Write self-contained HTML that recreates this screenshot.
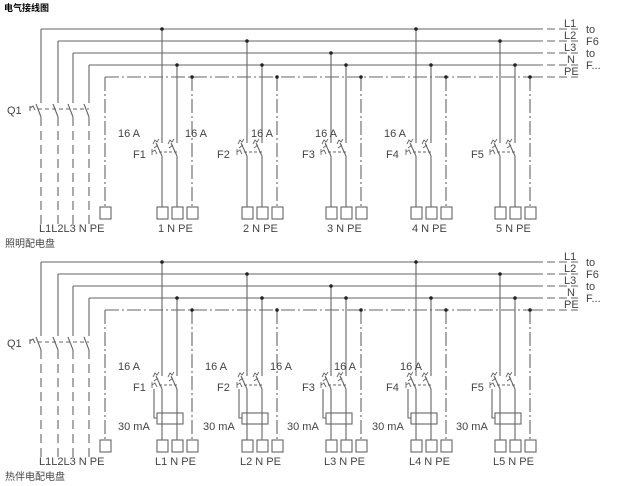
<!DOCTYPE html>
<html><head><meta charset="utf-8"><style>
html,body{margin:0;padding:0;background:#fff;}
svg{display:block;}
text{font-family:"Liberation Sans","Noto Sans CJK SC",sans-serif;font-size:11px;fill:#444;}
</style></head><body>
<svg width="632" height="486" viewBox="0 0 632 486" xmlns="http://www.w3.org/2000/svg">
<defs>
<g id="base" stroke="#666" stroke-width="1.1" fill="none">
 <!-- buses -->
 <path d="M41 29H535M58 41H535M73 53H535M89 65H535"/>
 <path d="M105 77H535" stroke-dasharray="14,3,2,3"/>
 <path d="M535 29H578M535 41H578M535 53H578M535 65H578M535 77H578" stroke-dasharray="8,4"/>
 <!-- Q1 verticals -->
 <path d="M41 29V103M58 41V103M73 53V103M89 65V103"/>
 <path d="M36 104L41 117M53 104L58 117M68 104L73 117M84 104L89 117"/>
 <path d="M41 117V226M58 117V226M73 117V226M89 117V226" stroke-dasharray="9,5"/>
 <path d="M38 109H89" stroke-dasharray="4,3"/>
 <path d="M30 106v5M30 108l3-2l2 4"/>
 <!-- PE left -->
 <path d="M105 77V207" stroke-dasharray="14,3,2,3"/>
 <rect x="100" y="207" width="11" height="12"/>
</g>
<g id="brk" stroke="#666" stroke-width="1.1" fill="none">
 <path d="M-6 143L0 156M9 143L15 156"/>
 <path d="M-3 152H15" stroke-dasharray="3,2"/>
 <path d="M-9 144l2-4l2 2l2-3M6 144l2-4l2 2l2-3M-8 148l4-3M7 148l4-3" stroke-width="0.9"/>
 <path d="M-10 149v6M-10 152l3-2l2 4" stroke-width="0.9"/>
 <path d="M15 65V143M0 156V207M15 156V207"/>
 <path d="M30 77V207" stroke-dasharray="14,3,2,3"/>
 <rect x="-5" y="207" width="11" height="12"/><rect x="10" y="207" width="11" height="12"/><rect x="25" y="207" width="11" height="12"/>
 <circle cx="15" cy="65" r="1.8" fill="#222" stroke="none"/><circle cx="30" cy="77" r="1.8" fill="#222" stroke="none"/>
</g>
<g id="rcd" stroke="#666" stroke-width="1.1" fill="none">
 <rect x="-5" y="180" width="26" height="11" fill="#fff"/>
 <path d="M0 180V191M15 180V191"/>
 <path d="M-8 156V185H-5"/>
</g>
</defs>

<use href="#base"/>
<use href="#base" transform="translate(0,233)"/>

<g stroke="#666" stroke-width="1.1" fill="none">
 <!-- top L taps -->
 <path d="M162 29V143M247 41V143M331 53V143M416 29V143M500 41V143"/>
 <!-- bottom L taps -->
 <path d="M162 262V376M247 274V376M331 286V376M416 262V376M500 274V376"/>
</g>
<g fill="#222">
 <circle cx="162" cy="29" r="1.8"/><circle cx="247" cy="41" r="1.8"/><circle cx="331" cy="53" r="1.8"/><circle cx="416" cy="29" r="1.8"/><circle cx="500" cy="41" r="1.8"/>
 <circle cx="162" cy="262" r="1.8"/><circle cx="247" cy="274" r="1.8"/><circle cx="331" cy="286" r="1.8"/><circle cx="416" cy="262" r="1.8"/><circle cx="500" cy="274" r="1.8"/>
</g>
<use href="#brk" transform="translate(162,0)"/>
<use href="#brk" transform="translate(247,0)"/>
<use href="#brk" transform="translate(331,0)"/>
<use href="#brk" transform="translate(416,0)"/>
<use href="#brk" transform="translate(500,0)"/>
<use href="#brk" transform="translate(162,233)"/>
<use href="#brk" transform="translate(247,233)"/>
<use href="#brk" transform="translate(331,233)"/>
<use href="#brk" transform="translate(416,233)"/>
<use href="#brk" transform="translate(500,233)"/>
<use href="#rcd" transform="translate(162,233)"/>
<use href="#rcd" transform="translate(247,233)"/>
<use href="#rcd" transform="translate(331,233)"/>
<use href="#rcd" transform="translate(416,233)"/>
<use href="#rcd" transform="translate(500,233)"/>

<text x="4" y="11" style="font-size:9px;font-weight:bold;fill:#000">电气接线图</text>

<!-- right labels top -->
<g style="font-size:10.5px">
<text x="564" y="27">L1</text><text x="564" y="39">L2</text><text x="564" y="51">L3</text><text x="567" y="63">N</text><text x="564" y="75">PE</text>
<text x="586" y="33">to</text><text x="586" y="45">F6</text><text x="586" y="57">to</text><text x="586" y="69">F...</text>
<text x="564" y="260">L1</text><text x="564" y="272">L2</text><text x="564" y="284">L3</text><text x="567" y="296">N</text><text x="564" y="308">PE</text>
<text x="586" y="266">to</text><text x="586" y="278">F6</text><text x="586" y="290">to</text><text x="586" y="302">F...</text>
</g>

<text x="7" y="114">Q1</text>
<text x="7" y="347">Q1</text>

<text x="118" y="137">16 A</text><text x="185" y="137">16 A</text><text x="251" y="137">16 A</text><text x="315" y="137">16 A</text><text x="384" y="137">16 A</text>
<text x="133" y="158">F1</text><text x="217" y="158">F2</text><text x="302" y="158">F3</text><text x="386" y="158">F4</text><text x="471" y="158">F5</text>

<text x="39" y="232">L1L2L3 N PE</text>
<text x="158" y="232">1  N PE</text><text x="243" y="232">2  N PE</text><text x="327" y="232">3  N PE</text><text x="412" y="232">4  N PE</text><text x="496" y="232">5  N PE</text>
<text x="5" y="247" style="font-size:10px">照明配电盘</text>

<text x="118" y="370">16 A</text><text x="205" y="370">16 A</text><text x="270" y="370">16 A</text><text x="334" y="370">16 A</text><text x="400" y="370">16 A</text>
<text x="133" y="391">F1</text><text x="217" y="391">F2</text><text x="302" y="391">F3</text><text x="386" y="391">F4</text><text x="471" y="391">F5</text>
<text x="118" y="430">30 mA</text><text x="203" y="430">30 mA</text><text x="287" y="430">30 mA</text><text x="372" y="430">30 mA</text><text x="456" y="430">30 mA</text>

<text x="39" y="465">L1L2L3 N PE</text>
<text x="155" y="465">L1 N PE</text><text x="240" y="465">L2 N PE</text><text x="324" y="465">L3 N PE</text><text x="409" y="465">L4 N PE</text><text x="493" y="465">L5 N PE</text>
<text x="5" y="480" style="font-size:10px">热伴电配电盘</text>
</svg>
</body></html>
